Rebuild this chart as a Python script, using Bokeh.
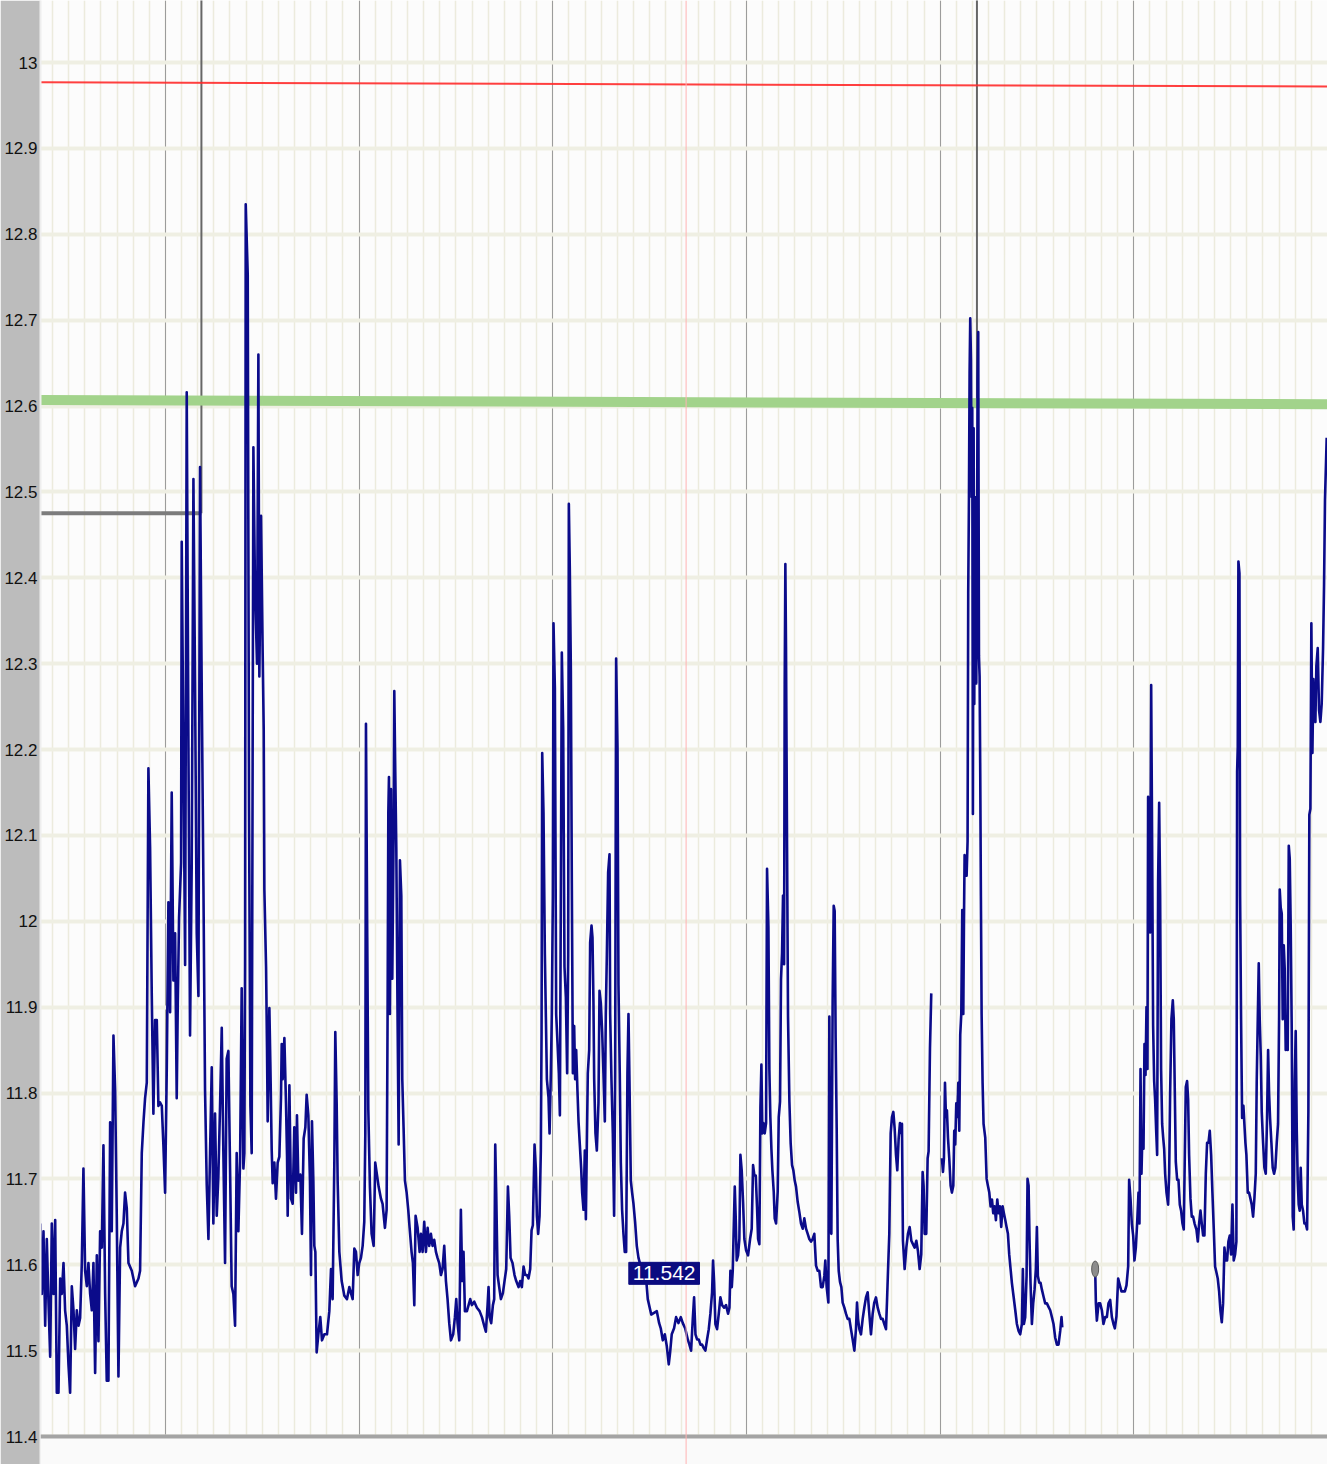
import math
from bokeh.plotting import figure
from bokeh.models import FixedTicker, Span, BoxAnnotation, Label, Range1d
from bokeh.embed import file_html
from bokeh.resources import INLINE

NAN = float("nan")

# ---- data (time in hours, battery voltage in V) ----
hours_a = [8.50, 8.68, 8.89, 9.10, 9.30, 9.51, 9.72, 9.92, 10.13, 10.34, 10.54, 10.75, 10.96, 11.16, 11.37, 11.57,
           11.78, 11.99, 12.19, 12.40, 12.61, 12.81, 13.02, 13.23, 13.43, 13.64, 13.84, 14.05, 14.26, 14.46, 14.67,
           14.88, 15.08, 15.29, 15.50, 15.70, 15.91, 16.12, 16.32, 16.53, 16.73, 16.94, 17.15, 17.35, 17.56, 17.77,
           17.97, 18.18, 18.39, 18.59, 18.80, 19.00, 19.21, 19.42, 19.83, 20.24, 20.66, 20.86, 21.07, 21.28, 21.48,
           21.69, 21.89, 22.10, 22.31, 22.51, 22.72, 22.93, 23.13, 23.34, 23.55, 23.75, 23.96, 24.17, 24.37, 24.58,
           24.78, 24.99, 25.20, 25.40, 25.53, 25.69, 25.94, 26.02, 26.23, 26.44, 26.64, 26.85, 27.05, 27.26, 27.47,
           27.67, 27.88, 28.09, 28.29, 28.50, 28.71, 28.91, 29.12, 29.33, 29.53, 29.74, 29.94, 30.15, 30.36, 30.56,
           30.77, 30.98, 31.18, 31.39, 31.59, 31.80, 32.01, 32.21, 32.42, 32.63, 32.83, 33.04, 33.25, 33.45, 33.66,
           33.78, 33.87, 33.95, 34.20, 34.36, 34.53, 34.69, 34.90, 35.10, 35.35, 35.52]
volts_a = [11.648, 11.566, 11.639, 11.529, 11.630, 11.556, 11.493, 11.648, 11.566, 11.652, 11.451, 11.451, 11.584,
           11.566, 11.602, 11.547, 11.529, 11.483, 11.451, 11.575, 11.547, 11.502, 11.547, 11.529, 11.538, 11.602,
           11.712, 11.593, 11.575, 11.602, 11.566, 11.547, 11.602, 11.474, 11.611, 11.511, 11.639, 11.620, 11.739,
           11.566, 11.465, 11.465, 11.766, 11.639, 11.867, 11.803, 11.657, 11.470, 11.620, 11.639, 11.648, 11.684,
           11.666, 11.602, 11.593, 11.575, 11.584, 11.593, 11.730, 11.766, 11.794, 11.812, 12.178, 12.086, 11.913,
           11.776, 11.885, 11.885, 11.785, 11.789, 11.785, 11.739, 11.684, 11.830, 12.022, 11.894, 12.150, 11.931,
           11.986, 11.794, 11.904, 12.004, 12.068, 12.442, 12.196, 11.949, 12.616, 12.205, 11.867, 12.068, 12.515,
           12.278, 11.986, 11.913, 12.529, 12.269, 12.041, 11.803, 11.693, 11.630, 11.730, 11.830, 11.648, 11.776,
           11.657, 11.703, 11.785, 11.876, 11.730, 11.602, 11.840, 11.849, 11.712, 11.575, 11.566, 11.529, 11.730,
           11.639, 11.720, 11.922, 11.712, 11.730, 11.949, 12.835, 12.753, 12.132, 11.785, 11.730, 12.552, 12.388,
           12.300, 12.660]

hours_b = [35.64, 35.85, 36.05, 36.18, 36.26, 36.47, 36.59, 36.67, 36.88, 37.00, 37.17, 37.29, 37.50, 37.70, 37.91,
           38.12, 38.32, 38.41, 38.53, 38.74, 38.94, 39.07, 39.15, 39.36, 39.56, 39.77, 39.97, 40.18, 40.30, 40.47,
           40.72, 40.92, 41.13, 41.34, 41.50, 41.71, 41.91, 42.04, 42.16, 42.33, 42.45, 42.58, 42.74, 42.95, 43.19,
           43.40, 43.69, 44.02, 44.31, 44.52, 44.72, 44.93, 45.05, 45.22, 45.34, 45.55, 45.84, 46.17, 46.50, 46.79,
           46.99, 47.20, 47.41, 47.61, 47.82, 48.02, 48.23, 48.44, 48.64, 48.77, 48.85, 49.01, 49.14, 49.34, 49.55,
           49.80, 50.00, 50.21, 50.42, 50.71, 50.91, 51.20, 51.41, 51.53, 51.62, 51.70, 51.82, 51.95, 52.11, 52.28,
           52.36, 52.48, 52.61, 52.77, 52.90, 53.06, 53.23, 53.35, 53.51, 53.68, 53.89, 54.09, 54.26, 54.50, 54.67,
           54.84, 55.00, 55.25, 55.50, 55.66, 55.87, 56.07, 56.28, 56.49, 56.69, 56.90, 57.10, 57.31, 57.52, 57.72,
           57.93, 58.14, 58.34, 58.55, 58.76, 58.96, 59.17, 59.38, 59.66, 59.87, 60.04, 60.20, 60.41, 60.61, 60.78,
           60.94, 61.11, 61.36]
volts_b = [12.285, 12.472, 12.313, 12.223, 12.037, 11.947, 11.850, 11.767, 11.899, 11.836, 11.733, 11.695, 11.719,
           11.677, 11.719, 11.726, 11.795, 11.857, 11.816, 11.864, 11.788, 11.726, 11.657, 11.809, 11.677, 11.671,
           11.760, 11.684, 11.774, 11.698, 11.705, 11.636, 11.747, 11.760, 11.798, 11.774, 11.698, 11.588, 11.767,
           11.698, 11.622, 11.615, 11.498, 11.519, 11.539, 11.512, 11.519, 11.519, 11.546, 11.595, 11.560, 11.719,
           11.871, 11.788, 11.698, 11.615, 11.581, 11.564, 11.560, 11.574, 11.567, 11.560, 11.619, 11.615, 11.588,
           11.602, 11.608, 11.622, 11.650, 11.753, 12.230, 11.981, 11.781, 11.691, 11.636, 11.622, 11.719, 11.705,
           11.691, 11.677, 11.671, 11.643, 11.664, 11.892, 12.126, 12.168, 11.892, 12.154, 11.933, 12.106, 12.268,
           12.175, 12.085, 11.885, 11.740, 12.071, 12.030, 11.816, 11.760, 11.698, 11.684, 11.664, 11.643, 11.615,
           11.602, 11.553, 11.657, 11.643, 11.615, 11.636, 11.615, 11.650, 11.615, 11.643, 11.622, 11.636, 11.622,
           11.629, 11.615, 11.608, 11.602, 11.588, 11.595, 11.622, 11.581, 11.560, 11.532, 11.512, 11.519, 11.539,
           11.560, 11.532, 11.512, 11.664, 11.581, 11.615, 11.546, 11.546]

hours_c = [61.77, 61.98, 62.27, 62.60, 62.93, 63.22, 63.50, 63.71, 63.92, 64.04, 64.17, 64.37, 64.58, 64.74, 64.87,
           64.99, 65.16, 65.36, 65.57, 65.82, 66.02, 66.23, 66.44, 66.60, 66.77, 67.01, 67.26, 67.47, 67.76, 67.96,
           68.17, 68.38, 68.58, 68.79, 68.99, 69.20, 69.37, 69.53, 69.74, 69.90, 70.03, 70.19, 70.36, 70.52, 70.61,
           70.69, 70.85, 71.02, 71.27, 71.47, 71.60, 71.76, 71.88, 72.01, 72.09, 72.26, 72.42, 72.59, 72.75, 72.88,
           73.00, 73.12, 73.29, 73.45, 73.62, 73.78, 73.91, 73.99, 74.11, 74.24, 74.36, 74.49, 74.65, 74.77, 74.90,
           75.06, 75.19, 75.35, 75.52, 75.64, 75.81, 75.97, 76.10, 76.22, 76.34, 76.51, 76.63, 76.80, 76.92, 77.04,
           77.13, 77.29, 77.46, 77.66, 77.79, 77.95, 78.12, 78.28, 78.45, 78.57, 78.70, 78.86, 79.03, 79.11, 79.27,
           79.44, 79.60, 79.73, 79.85, 80.02, 80.14, 80.30, 80.43, 80.59, 80.76, 80.92, 81.09, 81.25, 81.38, 81.50,
           81.67, 81.83, 82.00, 82.20, 82.41, 82.62, 82.91, 83.24, 83.53, 83.77, 84.20, 84.89, 85.18, 85.38, 85.63,
           85.88, 86.13, 86.37, 86.54, 86.74, 87.03, 87.28, 87.57, 87.86, 88.11, 88.40]
volts_c = [11.560, 11.553, 11.557, 11.550, 11.546, 11.539, 11.529, 11.522, 11.553, 11.574, 11.539, 11.532, 11.553,
           11.560, 11.740, 11.684, 11.588, 11.574, 11.560, 11.567, 11.581, 11.595, 11.691, 11.657, 11.608, 11.602,
           11.588, 11.581, 11.574, 11.581, 11.574, 11.598, 11.588, 11.588, 11.584, 11.595, 11.640, 11.646, 11.740,
           11.712, 11.657, 11.636, 11.657, 11.733, 11.871, 12.196, 12.126, 11.961, 11.816, 11.795, 11.753, 11.823,
           11.892, 12.030, 12.347, 12.271, 11.892, 11.857, 11.823, 11.774, 12.030, 12.313, 12.223, 11.947, 11.912,
           11.823, 11.961, 12.486, 12.410, 12.292, 12.044, 11.823, 11.878, 11.816, 11.850, 11.802, 11.767, 11.740,
           11.712, 11.684, 11.664, 11.733, 11.653, 11.740, 11.823, 11.850, 11.975, 11.995, 11.981, 11.905, 11.816,
           11.753, 11.733, 11.788, 11.919, 11.905, 11.871, 11.823, 11.767, 11.892, 11.961, 12.057, 12.078, 11.892,
           11.816, 11.753, 11.657, 11.823, 12.306, 12.202, 11.926, 11.823, 11.719, 11.664, 11.636, 11.615, 11.615,
           11.823, 11.892, 11.816, 11.698, 11.684, 11.671, 11.650, 11.622, 11.608, 11.598, 11.595, 11.588, 11.560,
           11.542, 11.546, 11.532, 11.526, 11.512, 11.519, 11.505, 11.484, 11.498, 11.519, 11.526, 11.539, 11.532,
           11.539, 11.532, 11.526]

hours_d = [88.73, 88.93, 89.14, 89.35, 89.51, 89.68, 89.88, 90.09, 90.30, 90.50, 90.71, 90.91, 91.12, 91.33, 91.53,
           91.74, 91.86, 91.99, 92.15, 92.36, 92.57, 92.77, 92.98, 93.23, 93.47, 93.72, 93.89, 94.01, 94.18, 94.30,
           94.42, 94.55, 94.67, 94.79, 94.96, 95.12, 95.25, 95.41, 95.58, 95.74, 95.95, 96.20, 96.45, 96.65, 96.82,
           96.98, 97.15, 97.31, 97.44, 97.60, 97.73, 97.85, 97.97, 98.10, 98.26, 98.43, 98.55, 98.72, 98.84, 98.96,
           99.09, 99.21, 99.38, 99.50, 99.67, 99.87, 100.00, 100.16, 100.28, 100.41, 100.53, 100.66, 100.74, 100.82,
           100.90, 101.03, 101.15, 101.32, 101.48, 101.65, 101.81, 101.98, 102.14, 102.35, 102.56, 102.76, 102.97,
           103.17, 103.38, 103.59, 103.79, 104.00, 104.21, 104.41, 104.62, 104.83, 105.03, 105.24, 105.44, 105.65,
           105.77, 105.94, 106.15, 106.27, 106.39, 106.52, 106.68, 106.81, 106.93, 107.05, 107.18, 107.30, 107.43,
           107.59, 107.76, 107.92, 108.13, 108.33, 108.54, 108.75, 108.95, 109.16, 109.37, 109.57, 109.70, 109.82,
           109.99, 110.19, 110.40, 110.60, 110.81, 111.02, 111.22, 111.43, 111.64, 111.84, 112.05, 112.26, 112.46,
           112.67, 112.88, 113.08, 113.29, 113.41, 113.54, 113.70, 113.87, 114.03, 114.20, 114.36, 114.53, 114.69,
           114.86, 115.02, 115.19]
volts_d = [11.513, 11.507, 11.500, 11.537, 11.562, 11.519, 11.513, 11.513, 11.507, 11.507, 11.503, 11.500, 11.513,
           11.525, 11.543, 11.568, 11.605, 11.580, 11.531, 11.525, 11.543, 11.562, 11.553, 11.550, 11.553, 11.543,
           11.550, 11.593, 11.574, 11.593, 11.642, 11.691, 11.654, 11.605, 11.611, 11.630, 11.728, 11.710, 11.673,
           11.630, 11.617, 11.611, 11.630, 11.642, 11.716, 11.704, 11.704, 11.667, 11.630, 11.624, 11.784, 11.833,
           11.753, 11.765, 11.753, 11.765, 12.061, 11.993, 11.827, 11.772, 11.735, 11.710, 11.685, 11.654, 11.648,
           11.685, 11.772, 11.790, 11.932, 11.963, 12.030, 11.950, 12.277, 12.416, 12.320, 12.086, 11.889, 11.790,
           11.741, 11.716, 11.710, 11.698, 11.691, 11.673, 11.661, 11.648, 11.642, 11.654, 11.642, 11.636, 11.630,
           11.627, 11.630, 11.636, 11.599, 11.593, 11.593, 11.574, 11.574, 11.587, 11.605, 11.574, 11.556, 11.889,
           11.642, 11.636, 11.907, 12.018, 12.012, 11.864, 11.759, 11.630, 11.593, 11.580, 11.574, 11.556, 11.550,
           11.543, 11.537, 11.537, 11.525, 11.513, 11.500, 11.525, 11.556, 11.537, 11.525, 11.519, 11.537, 11.550,
           11.562, 11.568, 11.543, 11.519, 11.543, 11.556, 11.562, 11.550, 11.543, 11.537, 11.537, 11.531, 11.525,
           11.556, 11.593, 11.636, 11.753, 11.772, 11.778, 11.759, 11.728, 11.710, 11.747, 11.765, 11.753]

hours_e = [115.27, 115.39, 115.60, 115.81, 116.01, 116.22, 116.43, 116.63, 116.84, 117.05, 117.25, 117.46, 117.66,
           117.83, 117.95, 118.08, 118.28, 118.45, 118.57, 118.74, 118.90, NAN,
           120.22, 120.35, 120.47, 120.60, 120.72, 120.84, 120.97, 121.13, 121.30, 121.46, 121.63, 121.75, 121.87,
           122.00, 122.12, 122.25, 122.37, 122.49, 122.62, 122.74, 122.87, 122.95, 123.03, 123.15, 123.28, 123.40,
           123.48, 123.57, 123.65, 123.73, 123.82, 123.90, 123.98, 124.06, 124.15, 124.23, 124.31, 124.39, 124.48,
           124.56, 124.64, 124.72, 124.81, 124.89, 124.97, 125.05, 125.14, 125.26, 125.38, 125.59, 125.76, 125.92,
           126.09, 126.25, 126.42, 126.58, 126.75, 126.91, 127.08, 127.24, 127.41, 127.57, 127.74, 127.90, 128.07,
           128.23, 128.40, 128.56, 128.73, 128.89, 129.10, 129.31, 129.51, 129.72, 129.92, 130.13, 130.25, 130.38,
           130.54, 130.71, 130.83, 130.96, 131.08, 131.20, 131.37, 131.53, 131.70, 131.86, 131.99, 132.11, 132.28,
           132.44, 132.61, 132.81, 133.02, 133.23, 133.43, 133.64, 133.85, 134.05, 134.26, 134.47, 134.67, 134.88,
           135.04, 135.13, NAN,
           139.21, 139.30, 139.42, 139.63, 139.83, 140.04, 140.24, 140.45, 140.66, 140.86, 141.07, 141.28, 141.48]
volts_e = [11.764, 11.628, 11.595, 11.620, 11.636, 11.644, 11.628, 11.624, 11.620, 11.628, 11.616, 11.595, 11.612,
           11.708, 11.692, 11.636, 11.636, 11.724, 11.732, 11.852, 11.916, NAN,
           11.724, 11.708, 11.724, 11.812, 11.772, 11.780, 11.748, 11.724, 11.692, 11.684, 11.692, 11.756, 11.740,
           11.788, 11.772, 11.812, 11.756, 11.868, 11.892, 12.013, 11.892, 11.997, 12.077, 12.069, 12.053, 12.093,
           12.382, 12.494, 12.638, 12.702, 12.654, 12.494, 12.598, 12.125, 12.574, 12.253, 12.494, 12.293, 12.277,
           12.414, 12.630, 12.686, 12.309, 12.285, 12.173, 12.029, 11.892, 11.812, 11.764, 11.748, 11.700, 11.692,
           11.684, 11.668, 11.676, 11.660, 11.668, 11.652, 11.676, 11.660, 11.668, 11.644, 11.668, 11.660, 11.652,
           11.644, 11.636, 11.612, 11.595, 11.579, 11.563, 11.547, 11.531, 11.523, 11.519, 11.531, 11.595, 11.531,
           11.539, 11.587, 11.700, 11.692, 11.628, 11.579, 11.531, 11.555, 11.571, 11.595, 11.644, 11.587, 11.579,
           11.579, 11.571, 11.563, 11.555, 11.555, 11.551, 11.547, 11.539, 11.531, 11.515, 11.507, 11.507, 11.523,
           11.539, 11.527, NAN,
           11.595, 11.555, 11.535, 11.555, 11.555, 11.547, 11.531, 11.539, 11.539, 11.555, 11.559, 11.539, 11.531]

hours_f = [141.65, 141.85, 142.06, 142.27, 142.47, 142.68, 142.89, 143.09, 143.30, 143.42, 143.59, 143.75, 143.92,
           144.08, 144.25, 144.41, 144.58, 144.70, 144.83, 144.95, 145.07, 145.20, 145.32, 145.45, 145.57, 145.69,
           145.77, 145.90, 146.02, 146.15, 146.27, 146.39, 146.52, 146.64, 146.77, 146.89, 147.01, 147.14, 147.26,
           147.38, 147.51, 147.63, 147.76, 147.88, 148.05, 148.25, 148.38, 148.50, 148.66, 148.83, 148.95, 149.08,
           149.20, 149.37, 149.53, 149.70, 149.86, 150.03, 150.19, 150.32, 150.44, 150.60, 150.73, 150.85, 151.02,
           151.18, 151.35, 151.53, 151.76, 151.93, 152.09, 152.26, 152.42, 152.59, 152.75, 152.92, 153.08, 153.25,
           153.41, 153.58, 153.74, 153.91, 154.07, 154.24, 154.40, 154.57, 154.73, 154.90, 155.06, 155.23, 155.39,
           155.56, 155.72, 155.89, 156.05, 156.22, 156.38, 156.55, 156.71, 156.80, 156.88, 156.96, 157.09, 157.17,
           157.29, 157.42, 157.58, 157.70, 157.83, 157.95, 158.12, 158.28, 158.45, 158.61, 158.78, 158.94, 159.11,
           159.23, 159.36, 159.48, 159.60, 159.73, 159.85, 160.02, 160.18, 160.35, 160.51, 160.64, 160.76, 160.88,
           161.05, 161.21, 161.38, 161.54, 161.71, 161.87, 162.00, 162.08, 162.20, 162.33, 162.45, 162.58, 162.70,
           162.82, 162.95, 163.07, 163.20, 163.32, 163.44, 163.57, 163.69, 163.81, 163.94, 164.06, 164.19, 164.31,
           164.43, 164.56, 164.68, 164.81, 164.97, 165.14, 165.30, 165.47, 165.63, 165.75, 165.88, 166.00, 166.13,
           166.25, 166.37, 166.50, 166.62, 166.79, 166.95, 167.12, 167.28, 167.45, 167.57, 167.69, 167.90]
volts_f = [11.526, 11.540, 11.584, 11.576, 11.569, 11.569, 11.569, 11.576, 11.598, 11.699, 11.677, 11.648, 11.634,
           11.605, 11.620, 11.648, 11.684, 11.648, 11.828, 11.706, 11.756, 11.735, 11.857, 11.821, 11.900, 11.828,
           12.145, 12.088, 11.987, 12.275, 12.088, 11.879, 11.814, 11.792, 11.756, 11.728, 12.045, 12.138, 12.030,
           11.828, 11.764, 11.749, 11.735, 11.706, 11.684, 11.670, 11.706, 11.800, 11.886, 11.908, 11.886, 11.800,
           11.720, 11.699, 11.699, 11.670, 11.663, 11.648, 11.641, 11.728, 11.807, 11.814, 11.792, 11.728, 11.677,
           11.656, 11.656, 11.648, 11.641, 11.627, 11.648, 11.663, 11.648, 11.634, 11.634, 11.706, 11.742, 11.742,
           11.756, 11.728, 11.684, 11.641, 11.598, 11.591, 11.584, 11.569, 11.547, 11.533, 11.555, 11.620, 11.605,
           11.605, 11.627, 11.634, 11.612, 11.670, 11.605, 11.612, 11.627, 12.174, 12.203, 12.419, 12.405, 12.030,
           11.886, 11.771, 11.785, 11.764, 11.742, 11.728, 11.684, 11.684, 11.677, 11.670, 11.656, 11.677, 11.706,
           11.814, 11.886, 11.951, 11.886, 11.843, 11.778, 11.742, 11.713, 11.706, 11.771, 11.850, 11.800, 11.771,
           11.742, 11.713, 11.706, 11.713, 11.742, 11.764, 11.886, 12.037, 12.016, 12.009, 11.886, 11.972, 11.944,
           11.850, 11.886, 11.850, 12.088, 12.073, 11.994, 11.872, 11.656, 11.641, 11.814, 11.872, 11.756, 11.699,
           11.670, 11.663, 11.713, 11.670, 11.663, 11.648, 11.648, 11.641, 11.778, 12.124, 12.131, 12.347, 12.196,
           12.282, 12.246, 12.232, 12.297, 12.318, 12.246, 12.232, 12.253, 12.318, 12.390, 12.491, 12.563]

# reference / threshold lines
red_hours = [8.52, 168.0]
red_volts = [12.977, 12.972]
green_hours = [8.52, 168.0]
green_volts = [12.607, 12.602]
low_hours = [8.52, 28.46]
low_volts = [12.475, 12.475]
step_hours = [28.46, 28.46, 124.56, 124.56, 168.0]
step_volts = [12.475, 13.2, 13.2, 12.6, 12.6]
now_hour = 88.52
restart_hour = [139.21]
restart_volt = [11.595]
callout_text = "11.542"
callout_hour = 85.8
callout_volt = 11.590

y_ticks = [11.4, 11.5, 11.6, 11.7, 11.8, 11.9, 12.0, 12.1, 12.2, 12.3, 12.4, 12.5, 12.6, 12.7, 12.8, 12.9, 13.0]
y_labels = ["11.4", "11.5", "11.6", "11.7", "11.8", "11.9", "12", "12.1", "12.2", "12.3", "12.4", "12.5",
            "12.6", "12.7", "12.8", "12.9", "13"]
day_ticks = [24, 48, 72, 96, 120, 144]
two_hour_ticks = list(range(10, 168, 2))

hours = hours_a + hours_b + hours_c + hours_d + hours_e + hours_f
volts = volts_a + volts_b + volts_c + volts_d + volts_e + volts_f

FONT = "Liberation Sans"

p = figure(width=1327, height=1464, output_backend="svg", toolbar_location=None,
           x_range=Range1d(8.52, 168.0), y_range=Range1d(11.3674, 13.0722),
           min_border_left=40, min_border_right=0, min_border_top=0, min_border_bottom=0)
p.title.visible = False
p.xaxis.visible = False
p.outline_line_color = None
p.background_fill_color = "#fcfcfc"
p.border_fill_color = "#bcbcbc"

# grids
p.xgrid.ticker = FixedTicker(ticks=day_ticks, minor_ticks=two_hour_ticks)
p.xgrid.grid_line_color = "#9c9c9c"
p.xgrid.grid_line_width = 1
p.xgrid.minor_grid_line_color = "#ecebdd"
p.xgrid.minor_grid_line_width = 1.5
p.ygrid.ticker = FixedTicker(ticks=y_ticks)
p.ygrid.grid_line_color = "#efefe3"
p.ygrid.grid_line_width = 4

# y axis
yax = p.yaxis[0]
yax.ticker = FixedTicker(ticks=y_ticks)
yax.major_label_overrides = {t: lab for t, lab in zip(y_ticks, y_labels)}
yax.major_label_text_font = FONT
yax.major_label_text_font_size = "17px"
yax.major_label_text_color = "#111111"
yax.major_label_standoff = 3
yax.major_tick_out = 0
yax.major_tick_in = 0
yax.minor_tick_out = 0
yax.minor_tick_in = 0
yax.major_tick_line_color = None
yax.minor_tick_line_color = None
yax.axis_line_color = "#eeeeee"
yax.axis_line_width = 2

# threshold lines
p.line(low_hours, low_volts, line_color="#7c7c7c", line_width=4)
p.line(step_hours, step_volts, line_color="#666666", line_width=2)
p.line(red_hours, red_volts, line_color="#ff2a2a", line_width=2, line_alpha=0.9)
p.line(green_hours, green_volts, line_color="#a2d38b", line_width=10)

# main series
p.line(hours, volts, line_color="#0b0b8a", line_width=2.6, line_join="round")
p.ellipse(x=restart_hour, y=restart_volt, width=7, height=16, width_units="screen", height_units="screen",
          fill_color="#8c8c8c", line_color="#5c5c5c", line_width=1)

# bottom strip and axis line
p.add_layout(BoxAnnotation(top=11.4, fill_color="#fafafa", fill_alpha=1.0, line_color=None))
p.add_layout(Span(location=11.4, dimension="width", line_color="#a4a4a4", line_width=4))
p.add_layout(Span(location=now_hour, dimension="height", line_color="#ffb3b3", line_width=1))

p.add_layout(Label(x=callout_hour, y=callout_volt, text=callout_text, text_align="center",
                   text_baseline="middle", text_color="white", text_font=FONT,
                   text_font_size="21px", background_fill_color="#0b0b80",
                   border_line_color="#0b0b80", padding=4))

open("out.html", "w").write(file_html(p, INLINE))
